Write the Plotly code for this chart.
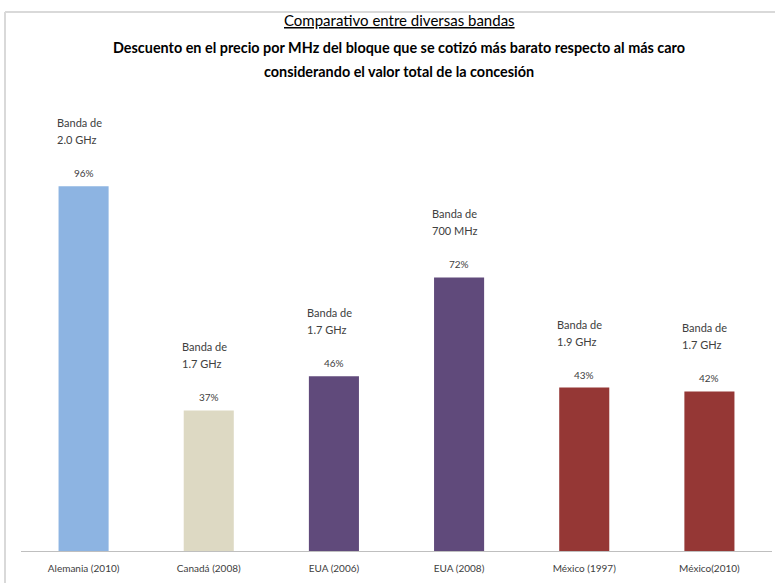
import plotly.graph_objects as go

categories = ["Alemania (2010)", "Canadá (2008)", "EUA (2006)", "EUA (2008)", "México (1997)", "México(2010)"]
values = [96, 37, 46, 72, 43, 42]
band_prefix = "Banda de"
bands = ["2.0 GHz", "1.7 GHz", "1.7 GHz", "700 MHz", "1.9 GHz", "1.7 GHz"]
colors = ["#8DB4E2", "#DDD9C3", "#604A7B", "#604A7B", "#953735", "#953735"]
title_lines = ["<u>Comparativo entre diversas bandas</u>",
               "<b>Descuento en el precio por MHz del bloque que se cotizó más barato respecto al más caro</b>",
               "<b>considerando el valor total de la concesión</b>"]

FONT = "Lato, Liberation Sans Narrow, sans-serif"
TXT = "#404040"

fig = go.Figure(go.Bar(x=categories, y=values, marker=dict(color=colors, line=dict(width=0)),
                       hoverinfo="skip"))

W, H = 775, 583
L, R, T, B = 21, 3, 171, 32
pw, ph = W - L - R, H - T - B

def px_x(p):
    return (p - L) / pw

def px_y(p):
    return (H - B - p) / ph

ann = []
for i, (c, v, b) in enumerate(zip(categories, values, bands)):
    ann.append(dict(x=i, y=v, xref="x", yref="y", text=f"{v}%", showarrow=False,
                    yanchor="bottom", yshift=5, font=dict(size=10, color=TXT, family=FONT)))
    for txt, sh in ((b, 38), (band_prefix, 55)):
        ann.append(dict(x=i - 0.2, y=v, xref="x", yref="y", text=txt, showarrow=False,
                        xanchor="left", yanchor="bottom", yshift=sh, xshift=-4, align="left",
                        font=dict(size=11, color=TXT, family=FONT)))

for txt, ypix, fs in zip(title_lines, [20, 47, 71], [15, 14.4, 14.4]):
    ann.append(dict(xref="paper", yref="paper", x=px_x(399), y=px_y(ypix), text=txt,
                    showarrow=False, xanchor="center", yanchor="middle",
                    font=dict(size=fs, color="#000000", family=FONT)))

shapes = [dict(type="line", xref="paper", yref="paper", x0=px_x(5), y0=px_y(583), x1=px_x(5), y1=px_y(12),
               line=dict(color="#D9D9D9", width=2)),
          dict(type="line", xref="paper", yref="paper", x0=px_x(5), y0=px_y(12), x1=px_x(776), y1=px_y(12),
               line=dict(color="#D9D9D9", width=2))]

fig.update_layout(
    width=W, height=H, margin=dict(l=L, r=R, t=T, b=B),
    paper_bgcolor="white", plot_bgcolor="white",
    bargap=0.6, showlegend=False,
    font=dict(family=FONT, color=TXT),
    xaxis=dict(showline=True, linecolor="#BFBFBF", linewidth=1, ticks="", showgrid=False,
               ticklabelstandoff=8,
               tickfont=dict(size=10, color=TXT, family=FONT)),
    yaxis=dict(range=[0, 100], visible=False, showgrid=False),
    annotations=ann, shapes=shapes,
)

fig.write_html("out.html")
